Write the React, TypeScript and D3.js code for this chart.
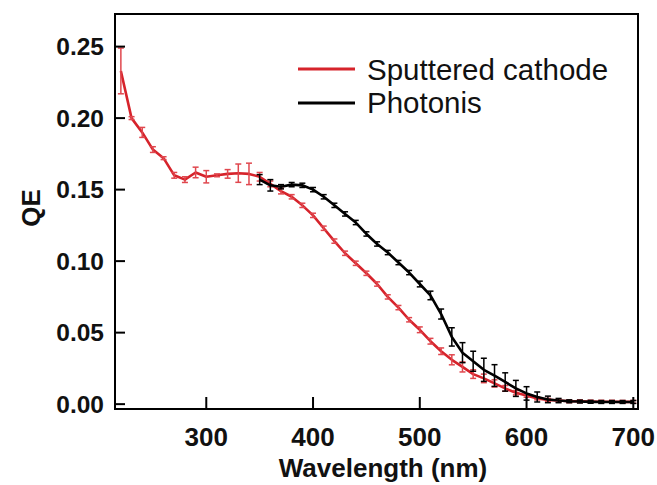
import React from "react";
import * as d3 from "d3";

const redWl = [220,230,240,250,260,270,280,290,300,310,320,330,340,350,360,370,380,390,400,410,420,430,440,450,460,470,480,490,500,510,520,530,540,550,560,570,580,590,600,610,620,630,640,650,660,670,680,690,700];
const redQE = [0.233,0.200,0.190,0.178,0.172,0.160,0.157,0.162,0.159,0.160,0.161,0.1615,0.161,0.159,0.154,0.149,0.145,0.139,0.132,0.123,0.114,0.1055,0.0985,0.0915,0.084,0.075,0.0675,0.059,0.052,0.044,0.037,0.031,0.026,0.021,0.018,0.0145,0.011,0.008,0.006,0.004,0.003,0.0025,0.002,0.002,0.0018,0.0017,0.0017,0.0016,0.0016];
const redErr = [0.016,0.001,0.0035,0.002,0.001,0.002,0.002,0.0037,0.0043,0.001,0.003,0.0064,0.0075,0.003,0.002,0.002,0.0015,0.0015,0.0015,0.0015,0.0015,0.0015,0.0015,0.0015,0.0015,0.0015,0.0015,0.0015,0.002,0.002,0.0023,0.0035,0.0035,0.003,0.003,0.0025,0.002,0.0015,0.0012,0.001,0.001,0.001,0.001,0.001,0.001,0.001,0.001,0.001,0.001];

const blackWl = [350,360,370,380,390,400,410,420,430,440,450,460,470,480,490,500,510,520,530,540,550,560,570,580,590,600,610,620,630,640,650,660,670,680,690,700];
const blackQE = [0.157,0.153,0.152,0.1535,0.153,0.150,0.145,0.139,0.133,0.127,0.119,0.112,0.106,0.099,0.092,0.084,0.076,0.063,0.047,0.036,0.030,0.024,0.020,0.0155,0.011,0.0075,0.005,0.0033,0.0025,0.002,0.0018,0.0016,0.0015,0.0015,0.0015,0.0015];
const blackErr = [0.0035,0.004,0.0015,0.0015,0.0015,0.0015,0.0015,0.0015,0.0015,0.0015,0.0015,0.0015,0.0015,0.0015,0.0015,0.002,0.003,0.0035,0.0064,0.007,0.007,0.0081,0.0076,0.0064,0.0056,0.0047,0.0035,0.0023,0.0015,0.001,0.001,0.001,0.001,0.001,0.001,0.001];

const xTicks = [300,400,500,600,700];
const yTicks = [0,0.05,0.1,0.15,0.2,0.25];

const seriesNames = ["Sputtered cathode", "Photonis"];
const RED = "#d6232b";
const RED_ERR = "#e0474e";
const BLACK = "#000000";

export default function App() {
  const left = 115, right = 638, top = 14, bottom = 409;
  const x = d3.scaleLinear().domain([214.5, 704.4]).range([left, right]);
  const y = d3.scaleLinear().domain([-0.0034, 0.2728]).range([bottom, top]);
  const line = d3.line<[number, number]>().x(d => x(d[0])).y(d => y(d[1]));
  const redPts = redWl.map((w, i) => [w, redQE[i]] as [number, number]);
  const blackPts = blackWl.map((w, i) => [w, blackQE[i]] as [number, number]);
  const font = "'Liberation Sans', Arial, Helvetica, sans-serif";
  const cap = 3;

  const errBars = (wl: number[], v: number[], e: number[], color: string, key: string) =>
    wl.map((w, i) => {
      const cx = x(w);
      const y1 = y(v[i] + e[i]);
      const y2 = y(v[i] - e[i]);
      return (
        <g key={key + i} stroke={color} strokeWidth={1.5}>
          <line x1={cx} x2={cx} y1={y1} y2={y2} />
          <line x1={cx - cap} x2={cx + cap} y1={y1} y2={y1} />
          <line x1={cx - cap} x2={cx + cap} y1={y2} y2={y2} />
        </g>
      );
    });

  return (
    <svg width={657} height={485} style={{ position: "absolute", left: 0, top: 0, background: "#fff" }} fontFamily={font}>
      <rect x={0} y={0} width={657} height={485} fill="#fff" />
      <path d={line(redPts) || ""} fill="none" stroke={RED} strokeWidth={2.6} strokeLinejoin="round" />
      {errBars(redWl, redQE, redErr, RED_ERR, "r")}
      <path d={line(blackPts) || ""} fill="none" stroke={BLACK} strokeWidth={2.6} strokeLinejoin="round" />
      {errBars(blackWl, blackQE, blackErr, BLACK, "b")}
      <rect x={left} y={top} width={right - left} height={bottom - top} fill="none" stroke="#000" strokeWidth={2} />
      {yTicks.map(t => (
        <g key={"y" + t}>
          <line x1={left} x2={left + 10} y1={y(t)} y2={y(t)} stroke="#000" strokeWidth={2} />
          <text x={104} y={y(t)} dy="0.36em" textAnchor="end" fontSize={24.5} fontWeight="bold" fill="#111">
            {d3.format(".2f")(t)}
          </text>
        </g>
      ))}
      {xTicks.map(t => (
        <g key={"x" + t}>
          <line x1={x(t)} x2={x(t)} y1={bottom} y2={bottom - 12} stroke="#000" strokeWidth={2} />
          <text x={x(t)} y={446} textAnchor="middle" fontSize={26} fontWeight="bold" fill="#111">
            {t}
          </text>
        </g>
      ))}
      <text x={383} y={477} textAnchor="middle" fontSize={26} fontWeight="bold" fill="#111">Wavelength (nm)</text>
      <text transform="translate(40,208) rotate(-90)" textAnchor="middle" fontSize={26} fontWeight="bold" fill="#111">QE</text>
      <line x1={298} x2={355} y1={69} y2={69} stroke={RED} strokeWidth={3} />
      <text x={367} y={80} fontSize={29.5} fill="#111">{seriesNames[0]}</text>
      <line x1={298} x2={355} y1={103} y2={103} stroke={BLACK} strokeWidth={3} />
      <text x={367} y={113} fontSize={29.5} fill="#111">{seriesNames[1]}</text>
    </svg>
  );
}
